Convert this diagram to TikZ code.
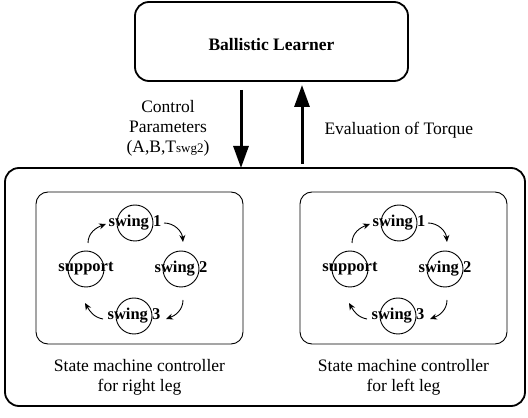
\documentclass[tikz,border=0pt]{standalone}
\usepackage{fontspec}
\setmainfont{Liberation Serif}
\usetikzlibrary{arrows.meta}
\begin{document}
\begin{tikzpicture}[x=1pt,y=1pt,
  bigbox/.style={draw, line width=1.8pt, rounded corners=14pt},
  smbox/.style={draw, line width=0.9pt, rounded corners=12pt},
  state/.style={circle, draw, line width=0.9pt, minimum size=36pt, inner sep=0pt},
  statelabel/.style={font=\fontsize{16.5}{18}\selectfont\bfseries},
  caption/.style={font=\fontsize{17.5}{20}\selectfont, align=center},
  flow/.style={line width=3pt, -{Triangle[length=22pt,width=15pt]}},
  trans/.style={line width=0.9pt, -{Stealth[length=7pt,width=6pt]}}
]
\useasboundingbox (0,0) rectangle (528,418);

% learner and the two-way flow
\node[bigbox, minimum width=273pt, minimum height=79pt] (learner) at (271.5,376.5) {};
\node[font=\fontsize{17.5}{20}\selectfont\bfseries] (title) at (271.5,373) {Ballistic Learner};

\node[bigbox, minimum width=520pt, minimum height=238pt] (plant) at (265,131) {};

\coordinate (dtop) at (241,328);
\coordinate (dbot) at (241,250);
\coordinate (utop) at (302,333);
\coordinate (ubot) at (302,254);
\draw[flow] (dtop) -- (dbot);
\draw[flow] (ubot) -- (utop);

\node[caption] (params) at (168,290) {Control\\Parameters\\(A,B,T{\fontsize{13}{15}\selectfont swg2})};
\node[caption, anchor=west] (evalt) at (321,288) {Evaluation of Torque};

% the two state machines
\foreach \dx/\side/\tag in {0/right/R, 264/left/L} {
  \begin{scope}[xshift=\dx]
    \node[smbox, minimum width=207pt, minimum height=152pt] (box\tag) at (139.5,150) {};
    \node[state] (s1\tag) at (135,195) {};
    \node[state] (sp\tag) at (86,149) {};
    \node[state] (s2\tag) at (181,149) {};
    \node[state] (s3\tag) at (134,102) {};
    \node[statelabel] (l1\tag) at (s1\tag) {swing 1};
    \node[statelabel] (lp\tag) at (sp\tag) {support};
    \node[statelabel] (l2\tag) at (s2\tag) {swing 2};
    \node[statelabel] (l3\tag) at (s3\tag) {swing 3};
    \coordinate (a1s\tag) at (164,195);
    \coordinate (a1e\tag) at (183,176);
    \coordinate (a2s\tag) at (183,118);
    \coordinate (a2e\tag) at (166,99);
    \coordinate (a3s\tag) at (103,99);
    \coordinate (a3e\tag) at (85,115);
    \coordinate (a4s\tag) at (88,175);
    \coordinate (a4e\tag) at (106,194);
    \draw[trans] (a1s\tag) to[out=0,in=95] (a1e\tag);
    \draw[trans] (a2s\tag) to[out=-90,in=20] (a2e\tag);
    \draw[trans] (a3s\tag) to[out=170,in=-60] (a3e\tag);
    \draw[trans] (a4s\tag) to[out=90,in=200] (a4e\tag);
    \node[caption] (cap\tag) at (139.5,41) {State machine controller\\for \side\ leg};
  \end{scope}
}
\end{tikzpicture}
\end{document}
